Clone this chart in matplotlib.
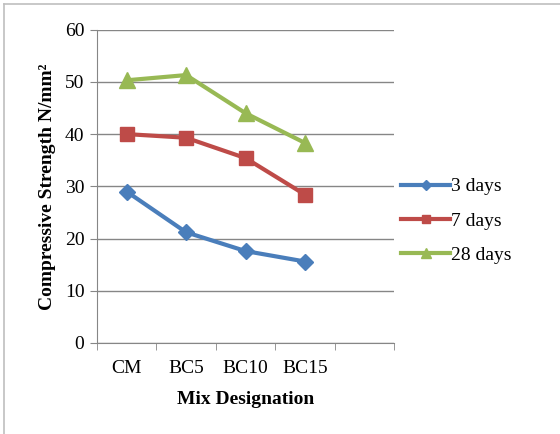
import matplotlib.pyplot as plt
from matplotlib.lines import Line2D

plt.rcParams['font.family'] = ['Liberation Serif', 'DejaVu Serif']

# data
mixes = ['CM', 'BC5', 'BC10', 'BC15']
days3 = [29.0, 21.2, 17.6, 15.6]
days7 = [40.0, 39.3, 35.4, 28.4]
days28 = [50.3, 51.3, 44.0, 38.3]

COL_BLUE = '#4A7EBB'
COL_RED = '#BE4B48'
COL_GREEN = '#98B954'
COL_AXIS = '#868686'

fig = plt.figure(figsize=(5.6, 4.34), dpi=100)
ax = fig.add_axes([0.173, 0.2097, 0.531, 0.722])

# outer chart border (only top / left visible in the crop)
fig.add_artist(Line2D([4 / 560, 1], [1 - 4 / 434, 1 - 4 / 434], color='#BFBFBF', lw=1.2))
fig.add_artist(Line2D([4 / 560, 4 / 560], [0, 1 - 4 / 434], color='#BFBFBF', lw=1.2))

x = range(len(mixes))
ax.plot(x, days3, color=COL_BLUE, lw=3, marker='D', ms=8, label='3 days', zorder=3)
ax.plot(x, days7, color=COL_RED, lw=3, marker='s', ms=10, label='7 days', zorder=3)
ax.plot(x, days28, color=COL_GREEN, lw=3, marker='^', ms=11, label='28 days', zorder=3)

ax.set_xlim(-0.5, 4.5)
ax.set_ylim(0, 60)
ax.set_yticks(range(0, 61, 10))
ax.yaxis.grid(True, color=COL_AXIS, lw=1)
ax.set_axisbelow(True)

ax.set_xticks(list(x))
ax.set_xticklabels(mixes)
ax.set_xticks([i - 0.5 for i in range(6)], minor=True)
ax.tick_params(axis='x', which='major', length=0, pad=12, labelsize=14)
ax.tick_params(axis='x', which='minor', length=5, color=COL_AXIS, direction='out')
ax.tick_params(axis='y', length=5, color=COL_AXIS, labelsize=14, pad=4)

for side in ['top', 'right']:
    ax.spines[side].set_visible(False)
for side in ['left', 'bottom']:
    ax.spines[side].set_color(COL_AXIS)

ax.set_xlabel('Mix Designation', fontsize=14, fontweight='bold', labelpad=10)
ax.set_ylabel('Compressive Strength N/mm²', fontsize=14, fontweight='bold', labelpad=6)

ax.legend(loc='center left', bbox_to_anchor=(0.965, 0.39), frameon=False, fontsize=14,
          handlelength=2.5, handletextpad=0.05, labelspacing=0.85, markerscale=0.6)

plt.savefig('out.png', dpi=100)
